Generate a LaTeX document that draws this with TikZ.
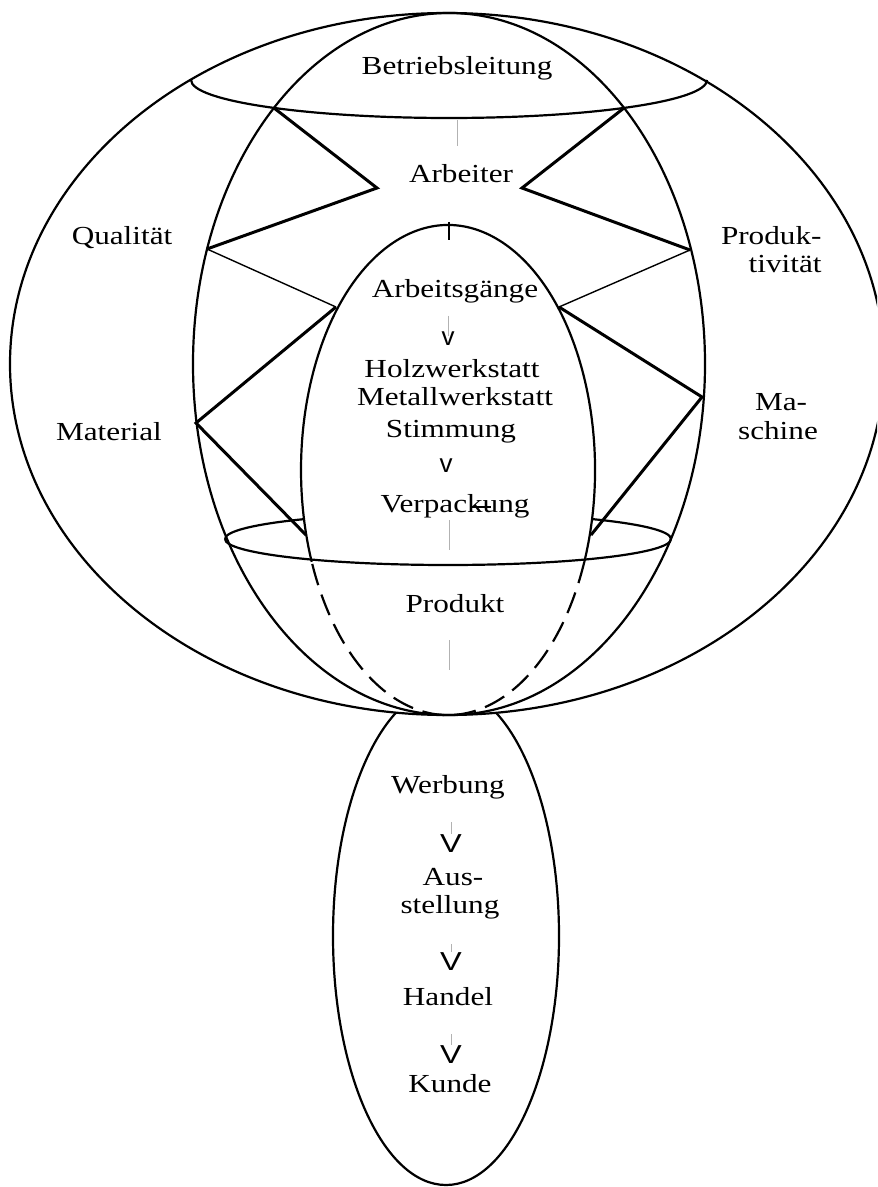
\documentclass[tikz,border=0pt]{standalone}
\usepackage{fontspec}
\setmainfont{Liberation Serif}
\newfontfamily\sansv{Liberation Sans}
\begin{document}
\begin{tikzpicture}[x=0.5pt,y=-0.5pt,
  ell/.style={line width=1.1pt},
  zig/.style={line width=1.5pt, line join=miter},
  thinzig/.style={line width=0.7pt},
  shaft/.style={draw=black!30, line width=0.5pt},
  lbl/.style={font=\fontsize{13}{15}\selectfont, xscale=1.2, anchor=base, inner sep=0pt},
  lblr/.style={lbl, anchor=base east},
  arr/.style={font=\sansv\fontsize{13}{15}\selectfont, anchor=base, inner sep=0pt},
  bigarr/.style={font=\sansv\fontsize{13}{15}\selectfont, xscale=1.25, anchor=base, inner sep=0pt}]
\useasboundingbox (0,0) rectangle (877,1187);
\fill[white] (0,0) rectangle (877,1187);
\clip (0,0) rectangle (877,1187);

% bottom ellipse (its top is hidden by the outer ellipse)
\draw[ell] (446,936) ellipse [x radius=113, y radius=249];
% outer ellipse
\draw[ell, fill=white] (447,364) ellipse [x radius=437, y radius=351];
% middle ellipse
\draw[ell] (449,364) ellipse [x radius=256, y radius=351];
% cap (lower half)
\draw[ell] (707,80) arc[start angle=0, end angle=180, x radius=258, y radius=38];
% inner ellipse: solid and dashed parts
\draw[ell] (584.3,561.8) arc[start angle=22, end angle=-202, x radius=147, y radius=245];
\draw[ell, dash pattern=on 11pt off 5pt] (584.3,561.8) arc[start angle=22, end angle=158, x radius=147, y radius=245];
% disk
\draw[ell] (671,539) arc[start angle=0, end angle=180, x radius=223, y radius=26];
\draw[ell] (225,539) arc[start angle=180, end angle=230, x radius=223, y radius=26];
\draw[ell] (591.3,519) arc[start angle=-50, end angle=0, x radius=223, y radius=26];

% zigzag points
\coordinate (L1) at (274,108);
\coordinate (L2) at (377,188);
\coordinate (L3) at (207,249);
\coordinate (L4) at (336,307);
\coordinate (L5) at (196,423);
\coordinate (L6) at (306,535);
\coordinate (R1) at (624,108);
\coordinate (R2) at (522,188);
\coordinate (R3) at (690,250);
\coordinate (R4) at (559,307);
\coordinate (R5) at (702,397);
\coordinate (R6) at (591,535);
\draw[zig] (L1) -- (L2) -- (L3);
\draw[thinzig] (L3) -- (L4);
\draw[zig] (L4) -- (L5) -- (L6);
\draw[zig] (R1) -- (R2) -- (R3);
\draw[thinzig] (R3) -- (R4);
\draw[zig] (R4) -- (R5) -- (R6);

% labels
\node[lbl] (betr) at (457,75) {Betriebsleitung};
\node[lbl] (arb) at (461,183) {Arbeiter};
\node[lbl] (ag) at (455,298) {Arbeitsgänge};
\node[arr] (v1) at (448,345) {v};
\node[lbl] (holz) at (452,378) {Holzwerkstatt};
\node[lbl] (met) at (455,405) {Metallwerkstatt};
\node[lbl] (stim) at (451,437) {Stimmung};
\node[arr] (v2) at (446,472) {v};
\node[lbl] (verp) at (455,512) {Verpackung};
\node[lbl] (prod) at (455,612) {Produkt};

\node[lbl] (qual) at (122,245) {Qualität};
\node[lbl] (mat) at (109,440) {Material};
\node[lblr] (pk1) at (822,245) {Produk-};
\node[lblr] (pk2) at (822,273) {tivität};
\node[lbl] (ma1) at (781,410) {Ma-};
\node[lbl] (ma2) at (778,439) {schine};

\node[lbl] (werb) at (448,793) {Werbung};
\node[bigarr] (V1) at (451,852) {V};
\node[lbl] (aus1) at (453,885) {Aus-};
\node[lbl] (aus2) at (450,913) {stellung};
\node[bigarr] (V2) at (451,970) {V};
\node[lbl] (hand) at (448,1005) {Handel};
\node[bigarr] (V3) at (451,1063) {V};
\node[lbl] (kunde) at (450,1092) {Kunde};

% faint arrow shafts
\draw[shaft] (betr.south |- 0,120) -- (betr.south |- 0,146);
\draw[line width=1.2pt] (449,222) -- (449,240);
\draw[shaft] (v1.north |- 0,316) -- (v1.north |- 0,336);
\draw[line width=0.6pt] (470,507) -- (491,507);
\draw[shaft] (449,520) -- (449,550);
\draw[shaft] (449,640) -- (449,670);
\draw[shaft] (V1.north |- 0,822) -- (V1.north);
\draw[shaft] (V2.north |- 0,944) -- (V2.north);
\draw[shaft] (V3.north |- 0,1034) -- (V3.north);
\end{tikzpicture}
\end{document}
